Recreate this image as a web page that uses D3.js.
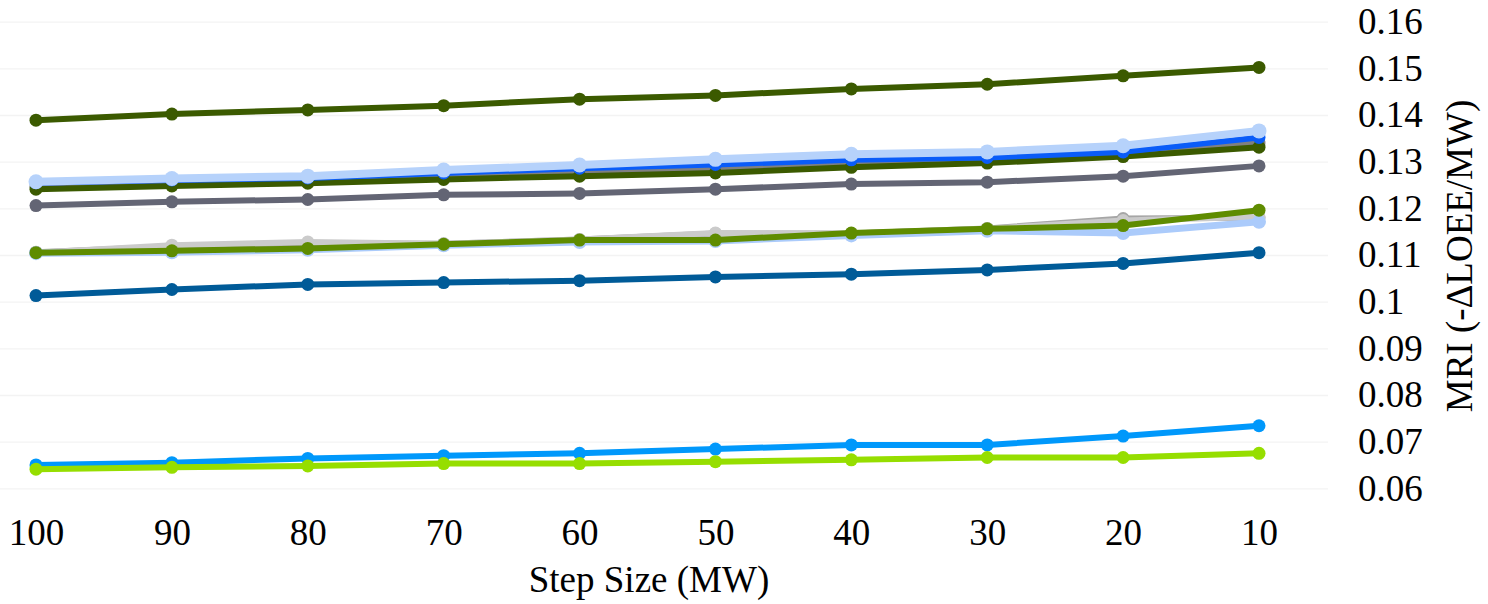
<!DOCTYPE html>
<html>
<head>
<meta charset="utf-8">
<script src="https://cdn.jsdelivr.net/npm/d3@7"></script>
<style>
    body { margin: 0; background: #ffffff; }
    svg { display: block; }
</style>
</head>
<body>
<div id="chart"></div>
<script>
'use strict';

// step sizes (MW), largest first like the source chart
const stepSizes = [100, 90, 80, 70, 60, 50, 40, 30, 20, 10];
const yTicks = [0.06, 0.07, 0.08, 0.09, 0.10, 0.11, 0.12, 0.13, 0.14, 0.15, 0.16];

// series values
const oliveTop   = [0.1389, 0.1402, 0.1411, 0.1420, 0.1434, 0.1442, 0.1456, 0.1466, 0.1484, 0.1502];
const paleBlue   = [0.1257, 0.1264, 0.1269, 0.1282, 0.1293, 0.1305, 0.1316, 0.1321, 0.1334, 0.1366];
const blue       = [0.1255, 0.1261, 0.1265, 0.1276, 0.1286, 0.1294, 0.1304, 0.1309, 0.1321, 0.1352];
const midGray    = [0.1247, 0.1254, 0.1260, 0.1268, 0.1276, 0.1284, 0.1295, 0.1303, 0.1316, 0.1340];
const oliveLow   = [0.1241, 0.1248, 0.1254, 0.1262, 0.1269, 0.1276, 0.1288, 0.1297, 0.1311, 0.1331];
const slate      = [0.1206, 0.1214, 0.1219, 0.1229, 0.1232, 0.1241, 0.1252, 0.1256, 0.1269, 0.1291];
const darkGray   = [0.1106, 0.1118, 0.1125, 0.1124, 0.1133, 0.1146, 0.1146, 0.1157, 0.1178, 0.1180];
const lightGray  = [0.1105, 0.1121, 0.1128, 0.1124, 0.1133, 0.1147, 0.1146, 0.1156, 0.1174, 0.1182];
const skyBlue    = [0.1104, 0.1106, 0.1111, 0.1121, 0.1128, 0.1130, 0.1142, 0.1152, 0.1147, 0.1171];
const green      = [0.1105, 0.1109, 0.1114, 0.1123, 0.1132, 0.1132, 0.1147, 0.1156, 0.1163, 0.1196];
const navy       = [0.1013, 0.1026, 0.1037, 0.1041, 0.1045, 0.1053, 0.1059, 0.1068, 0.1082, 0.1105];
const brightBlue = [0.0650, 0.0655, 0.0664, 0.0670, 0.0675, 0.0684, 0.0693, 0.0693, 0.0712, 0.0734];
const lime       = [0.0641, 0.0645, 0.0648, 0.0653, 0.0653, 0.0657, 0.0661, 0.0666, 0.0666, 0.0675];

// drawing order: first is at the bottom
const seriesList = [
    {values: oliveTop,   color: '#3b5a00', width: 6, r: 6.5},
    {values: midGray,    color: '#808080', width: 6, r: 6.5},
    {values: oliveLow,   color: '#3b5a00', width: 6, r: 6.5},
    {values: blue,       color: '#0a5cf8', width: 6, r: 6.5},
    {values: paleBlue,   color: '#b6d2fb', width: 8, r: 7.5},
    {values: slate,      color: '#636574', width: 6, r: 6.5},
    {values: darkGray,   color: '#a6a6a6', width: 6, r: 6.5},
    {values: lightGray,  color: '#cbcbcb', width: 6, r: 6.5},
    {values: skyBlue,    color: '#abcbfb', width: 7, r: 7},
    {values: green,      color: '#5f8c00', width: 6, r: 6.5},
    {values: navy,       color: '#005b98', width: 6, r: 6.5},
    {values: brightBlue, color: '#0098fb', width: 6, r: 6.5},
    {values: lime,       color: '#96de00', width: 6, r: 6.5}
];

const width = 1488;
const height = 604;
const fontFamily = "'Liberation Serif', 'DejaVu Serif', 'Times New Roman', Times, serif";

const x = d3.scalePoint().domain(stepSizes).range([36, 1259]);
const y = d3.scaleLinear().domain([0.06, 0.16]).range([488.3, 21.7]);

const svg = d3.select('#chart').append('svg')
    .attr('width', width)
    .attr('height', height);

// gridlines
svg.append('g')
    .attr('transform', 'translate(1328,0)')
    .call(d3.axisLeft(y).tickValues(yTicks).tickSize(1328).tickFormat(''))
    .call(g => g.select('.domain').remove())
    .call(g => g.selectAll('line').attr('stroke', '#f3f3f3').attr('stroke-width', 1.3));

// series
let line = d3.line()
    .x((d, i) => x(stepSizes[i]))
    .y(d => y(d));

let groups = svg.selectAll('.series').data(seriesList).enter()
    .append('g')
    .attr('class', 'series');

groups.append('path')
    .attr('d', s => line(s.values))
    .style('fill', 'none')
    .style('stroke', s => s.color)
    .style('stroke-width', s => s.width)
    .style('stroke-linejoin', 'round');

groups.selectAll('circle')
    .data(s => s.values.map((v, i) => ({v: v, i: i, s: s})))
    .enter()
    .append('circle')
    .attr('cx', d => x(stepSizes[d.i]))
    .attr('cy', d => y(d.v))
    .attr('r', d => d.s.r)
    .style('fill', d => d.s.color);

// x axis
svg.append('g')
    .attr('transform', 'translate(0,489)')
    .attr('font-family', null)
    .call(d3.axisBottom(x).tickSize(0).tickPadding(30))
    .call(g => g.select('.domain').remove())
    .call(g => g.selectAll('text')
        .style('font-family', fontFamily)
        .style('font-size', '37px')
        .style('fill', '#000'));

// y axis on the right
svg.append('g')
    .attr('transform', 'translate(1328,0)')
    .call(d3.axisRight(y).tickValues(yTicks).tickSize(0).tickPadding(30)
        .tickFormat(d3.format('.2~f')))
    .call(g => g.select('.domain').remove())
    .call(g => g.selectAll('text')
        .style('font-family', fontFamily)
        .style('font-size', '37px')
        .style('fill', '#000'));

// axis titles
svg.append('text')
    .attr('x', 649)
    .attr('y', 592)
    .attr('text-anchor', 'middle')
    .style('font-family', fontFamily)
    .style('font-size', '37px')
    .text('Step Size (MW)');

svg.append('text')
    .attr('transform', 'translate(1472,256) rotate(-90)')
    .attr('text-anchor', 'middle')
    .style('font-family', fontFamily)
    .style('font-size', '37px')
    .text('MRI (-ΔLOEE/MW)');
</script>
</body>
</html>
